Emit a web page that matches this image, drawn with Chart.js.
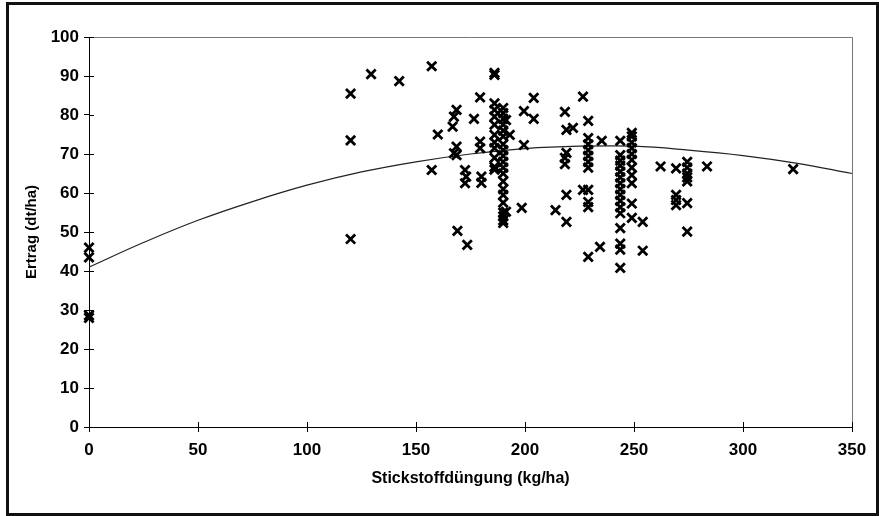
<!DOCTYPE html>
<html>
<head>
<meta charset="utf-8">
<script src="https://cdn.jsdelivr.net/npm/chart.js@4.4.1/dist/chart.umd.min.js"></script>
<style>
  html, body { margin: 0; padding: 0; background: #fff; }
  #wrap { position: relative; width: 879px; height: 516px; }
  #chart { position: absolute; left: 0; top: 0; }
  #frame { position: absolute; left: 6px; top: 2px; width: 867px; height: 508px; border: 3px solid #111; pointer-events: none; }
</style>
</head>
<body>
<div id="wrap">
  <canvas id="chart" width="879" height="516"></canvas>
  <div id="frame"></div>
</div>
<script>
// scatter values: nitrogen (kg/ha) and yield (dt/ha)
const stickstoff = [
  0, 0, 0, 0,
  120, 120, 120, 129.4, 142.3, 157.2, 157.2, 160,
  166.8, 167.4, 167.4, 168.6, 168.6, 168.6, 169,
  172.5, 172.5, 173, 173.5, 176.6, 179.4, 179.4, 179.4, 180, 180,
  186, 186, 186, 186, 186, 186, 186, 186, 186, 186, 186, 186,
  190, 190, 190, 190, 190, 190, 190, 190, 190, 190, 190, 190, 190, 190, 190, 190, 190, 190, 190, 190,
  191.3, 191.3, 193, 198.5, 199.5, 199.5, 204, 204, 214,
  218.3, 218.3, 218.3, 219, 219, 219, 219, 222, 226.6, 226.6,
  229, 229, 229, 229, 229, 229, 229, 229, 229, 229, 229,
  234.4, 235.2,
  243.7, 243.7, 243.7, 243.7, 243.7, 243.7, 243.7, 243.7, 243.7, 243.7, 243.7, 243.7, 243.7, 243.7, 243.7, 243.7,
  249, 249, 249, 249, 249, 249, 249, 249, 249, 249, 249,
  254, 254, 262.2, 269.3, 269.3, 269.3, 269.3,
  274.4, 274.4, 274.4, 274.4, 274.4, 274.4, 274.4,
  283.5, 323
];
const ertrag = [
  46, 43.5, 28, 28.6,
  85.5, 73.5, 48.2, 90.5, 88.7, 92.5, 65.9, 75,
  77, 79.6, 70.2, 81.3, 71.9, 69.7, 50.3,
  65.9, 62.5, 64.2, 46.7, 79, 84.5, 73.2, 71.5, 64.2, 62.6,
  90.8, 90.3, 83, 81.3, 79.6, 77.5, 74.9, 73, 71.5, 69, 66.7, 66,
  81.8, 80.5, 79, 77.5, 76, 74.5, 72.5, 71, 69.5, 68, 66.5, 65, 63, 61, 59.5, 57.5, 55, 54, 53, 52.3,
  78.7, 55.2, 74.9, 56.2, 81, 72.3, 84.4, 79, 55.6,
  80.8, 67.4, 69, 76.2, 70.3, 59.5, 52.6, 76.7, 84.7, 60.8,
  78.5, 74.1, 72.5, 71, 69.5, 68, 66.5, 60.8, 57.7, 56.4, 43.6,
  46.2, 73.4,
  73.4, 69.7, 68.3, 67, 65.5, 64, 62.5, 61, 59.5, 58, 56.4, 54.8, 51, 47, 45.5, 40.8,
  75.4, 74.5, 73, 71.5, 70, 68.5, 66.5, 64.6, 62.5, 57.3, 53.6,
  52.6, 45.2, 66.8, 66.3, 59.5, 58.2, 56.9,
  68, 66.5, 65, 64, 63, 57.4, 50.1,
  66.8, 66.1
];

// fitted curve, read at regular points along the drawn line
const kurveX = [0, 25, 50, 75, 100, 125, 150, 175, 200, 225, 250, 275, 300, 325, 350];
const kurveY = [41, 47.3, 53, 57.8, 62, 65.4, 68, 70, 71.4, 72, 72, 71, 69.6, 67.6, 65];

const xTicks = [0, 50, 100, 150, 200, 250, 300, 350];
const yTicks = [0, 10, 20, 30, 40, 50, 60, 70, 80, 90, 100];

const punkte = stickstoff.map((x, i) => ({x: x, y: ertrag[i]}));
const kurve = kurveX.map((x, i) => ({x: x, y: kurveY[i]}));

// inner half of the cross tick marks plus the grey plot frame
const crossTicks = {
  id: 'crossTicks',
  beforeDatasetsDraw(chart){
    const {ctx, chartArea: a, scales} = chart;
    ctx.save();
    ctx.strokeStyle = '#777';
    ctx.lineWidth = 1;
    ctx.beginPath();
    ctx.moveTo(a.left, a.top + 0.5);
    ctx.lineTo(a.right + 0.5, a.top + 0.5);
    ctx.lineTo(a.right + 0.5, a.bottom);
    ctx.stroke();
    ctx.strokeStyle = '#000';
    ctx.beginPath();
    scales.x.ticks.forEach(t => {
      const px = Math.round(scales.x.getPixelForValue(t.value)) + 0.5;
      ctx.moveTo(px, a.bottom);
      ctx.lineTo(px, a.bottom - 5);
    });
    scales.y.ticks.forEach(t => {
      const py = Math.round(scales.y.getPixelForValue(t.value)) + 0.5;
      ctx.moveTo(a.left, py);
      ctx.lineTo(a.left + 5, py);
    });
    ctx.stroke();
    ctx.restore();
  }
};

const fam = '"Liberation Sans", Arial, sans-serif';
const tickFont = {family: fam, size: 17, weight: 'bold'};

new Chart(document.getElementById('chart'), {
  type: 'scatter',
  data: {
    datasets: [
      {
        label: 'Ertrag',
        data: punkte,
        pointStyle: 'crossRot',
        pointRadius: 6.5,
        pointBorderWidth: 2.8,
        borderColor: '#000',
        backgroundColor: '#000',
        showLine: false,
        clip: false
      },
      {
        label: 'Regression',
        data: kurve,
        showLine: true,
        borderColor: '#222',
        borderWidth: 1.2,
        pointRadius: 0,
        tension: 0.4,
        fill: false
      }
    ]
  },
  plugins: [crossTicks],
  options: {
    responsive: false,
    animation: false,
    layout: { padding: {left: 0, top: 37, right: 27, bottom: 0} },
    plugins: { legend: {display: false}, tooltip: {enabled: false} },
    scales: {
      x: {
        type: 'linear',
        min: 0, max: 350,
        afterBuildTicks: s => { s.ticks = xTicks.map(v => ({value: v})); },
        afterFit: s => { s.height = 89; },
        ticks: { color: '#000', font: tickFont, padding: 8, maxRotation: 0 },
        grid: { drawOnChartArea: false, drawTicks: true, tickLength: 5, color: '#000' },
        border: { color: '#000', width: 1 },
        title: { display: true, text: 'Stickstoffdüngung (kg/ha)', color: '#000', font: {family: fam, size: 16, weight: 'bold'}, padding: {top: 0, bottom: 28} }
      },
      y: {
        type: 'linear',
        min: 0, max: 100,
        afterBuildTicks: s => { s.ticks = yTicks.map(v => ({value: v})); },
        afterFit: s => { s.width = 89; },
        ticks: { color: '#000', font: tickFont, padding: 5 },
        grid: { drawOnChartArea: false, drawTicks: true, tickLength: 5, color: '#000' },
        border: { color: '#000', width: 1 },
        title: { display: true, text: 'Ertrag (dt/ha)', color: '#000', font: {family: fam, size: 15, weight: 'bold'}, padding: {top: 23, bottom: 0} }
      }
    }
  }
});
</script>
</body>
</html>
